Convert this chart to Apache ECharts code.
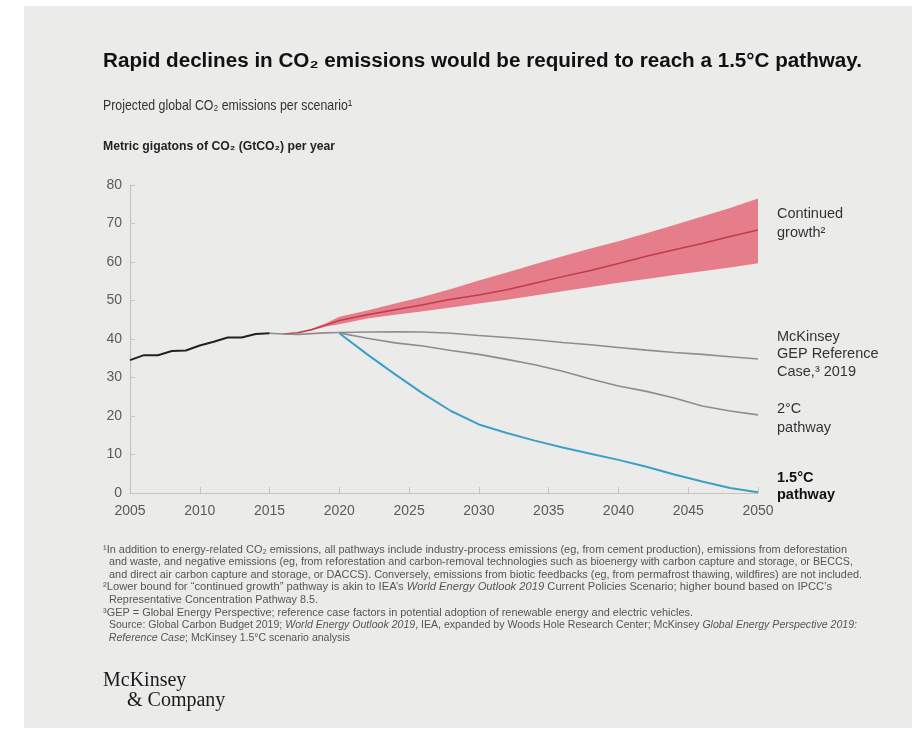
<!DOCTYPE html>
<html>
<head>
<meta charset="utf-8">
<script src="https://cdn.jsdelivr.net/npm/echarts@6/dist/echarts.min.js"></script>
<style>
  html, body { margin: 0; padding: 0; background: #ffffff; }
  #chart { width: 912px; height: 738px; }
</style>
</head>
<body>
<div id="chart"></div>
<script>
// historic emissions, GtCO2
var histYears = [2005, 2006, 2007, 2008, 2009, 2010, 2011, 2012, 2013, 2014, 2015]
var histValues = [34.5, 35.8, 35.8, 36.9, 37.0, 38.3, 39.3, 40.4, 40.4, 41.3, 41.5]

// projections (null = not drawn for that year)
var projYears = [2015, 2016, 2017, 2018, 2019, 2020, 2022, 2024, 2026, 2028, 2030, 2032, 2034, 2036, 2038, 2040, 2042, 2044, 2046, 2048, 2050]
var growthMid = [null, 41.3, 41.6, 42.4, 43.6, 44.8, 46.3, 47.6, 48.9, 50.3, 51.4, 52.8, 54.5, 56.2, 57.8, 59.6, 61.5, 63.2, 64.8, 66.6, 68.3]
var growthLow = [null, 41.3, 41.6, 42.2, 43.2, 43.8, 45.3, 46.3, 47.2, 48.2, 49.2, 50.2, 51.3, 52.4, 53.5, 54.6, 55.6, 56.6, 57.6, 58.6, 59.7]
var growthHigh = [null, 41.3, 41.6, 42.6, 44.0, 45.8, 47.4, 49.2, 51.0, 53.0, 55.2, 57.3, 59.4, 61.5, 63.5, 65.4, 67.5, 69.6, 71.8, 74.0, 76.5]
var gepRef = [41.5, 41.3, 41.2, 41.4, 41.6, 41.7, 41.8, 41.9, 41.8, 41.5, 40.9, 40.4, 39.8, 39.1, 38.5, 37.8, 37.1, 36.5, 36.0, 35.4, 34.8]
var path2C = [null, null, null, null, null, 41.6, 40.2, 39.0, 38.2, 37.0, 36.0, 34.7, 33.3, 31.6, 29.6, 27.8, 26.4, 24.7, 22.6, 21.3, 20.3]
var path15C = [null, null, null, null, null, 41.5, 36.0, 30.8, 25.8, 21.3, 17.8, 15.6, 13.6, 11.8, 10.2, 8.6, 6.8, 4.8, 3.0, 1.3, 0.2]

var yTicks = [0, 80, 10]   // min, max, step
var xTicks = [2005, 2050, 5]

function pairs(xs, ys) {
  var out = []
  for (var i = 0; i < xs.length; i++) {
    if (ys[i] !== null) out.push([xs[i], ys[i]])
  }
  return out
}

var plain = "'Liberation Sans', Arial, sans-serif"

// the original uses a condensed face, so squeeze Liberation Sans horizontally
var measureCtx = document.createElement('canvas').getContext('2d')
function textWidth(text, font) {
  measureCtx.font = font
  return measureCtx.measureText(text).width
}
function fitScale(text, font, width) {
  return width / textWidth(text, font)
}
// width of a line that may hold {i|...} italic runs
function richWidth(line, size) {
  var w = 0, re = /\{i\|([^}]*)\}/g, last = 0, m
  while ((m = re.exec(line)) !== null) {
    w += textWidth(line.slice(last, m.index), size + 'px ' + plain)
    w += textWidth(m[1], 'italic ' + size + 'px ' + plain)
    last = re.lastIndex
  }
  return w + textWidth(line.slice(last), size + 'px ' + plain)
}

var notes = [
  '¹In addition to energy-related CO₂ emissions, all pathways include industry-process emissions (eg, from cement production), emissions from deforestation',
  '  and waste, and negative emissions (eg, from reforestation and carbon-removal technologies such as bioenergy with carbon capture and storage, or BECCS,',
  '  and direct air carbon capture and storage, or DACCS). Conversely, emissions from biotic feedbacks (eg, from permafrost thawing, wildfires) are not included.',
  '²Lower bound for “continued growth” pathway is akin to IEA’s {i|World Energy Outlook 2019} Current Policies Scenario; higher bound based on IPCC’s',
  '  Representative Concentration Pathway 8.5.',
  '³GEP = Global Energy Perspective; reference case factors in potential adoption of renewable energy and electric vehicles.',
  '  Source: Global Carbon Budget 2019; {i|World Energy Outlook 2019}, IEA, expanded by Woods Hole Research Center; McKinsey {i|Global Energy Perspective 2019:}',
  '  {i|Reference Case}; McKinsey 1.5°C scenario analysis'
]
var noteRight = [847, 853, 862, 832, 318, 693, 857, 350]

var titleText = 'Rapid declines in CO₂ emissions would be required to reach a 1.5°C pathway.'
var subText = 'Projected global CO₂ emissions per scenario¹'
var unitText = 'Metric gigatons of CO₂ (GtCO₂) per year'

var titleFont = 'bold 20px ' + plain
var subFont = '14.5px ' + plain
var unitFont = 'bold 13px ' + plain
var noteSize = 11

function squeezed(text, font, x, y, width, color) {
  return {
    type: 'text', x: x, y: y, scaleX: fitScale(text, font, width),
    style: { text: text, font: font, fill: color, verticalAlign: 'top' }
  }
}

var chart = echarts.init(document.getElementById('chart'))

var graphics = [
  { type: 'rect', z: -10, shape: { x: 24, y: 6, width: 888, height: 722 }, style: { fill: '#ebecea' } },
  squeezed(titleText, titleFont, 103, 51, 759, '#111'),
  squeezed(subText, subFont, 103, 98, 249, '#333'),
  squeezed(unitText, unitFont, 103, 140, 232, '#222'),
  { type: 'text', x: 777, y: 204, style: { text: 'Continued\ngrowth²', font: '14.5px ' + plain, fill: '#333', lineHeight: 19, verticalAlign: 'top' } },
  { type: 'text', x: 777, y: 328, style: { text: 'McKinsey\nGEP Reference\nCase,³ 2019', font: '14.5px ' + plain, fill: '#333', lineHeight: 17.5, verticalAlign: 'top' } },
  { type: 'text', x: 777, y: 399, style: { text: '2°C\npathway', font: '14.5px ' + plain, fill: '#333', lineHeight: 19, verticalAlign: 'top' } },
  { type: 'text', x: 777, y: 469, style: { text: '1.5°C\npathway', font: 'bold 14.5px ' + plain, fill: '#111', lineHeight: 17, verticalAlign: 'top' } },
  { type: 'text', x: 103, y: 671, style: { text: 'McKinsey', font: '20px "Liberation Serif", "DejaVu Serif", serif', fill: '#1a1a1a', verticalAlign: 'top' } },
  { type: 'text', x: 127, y: 691, style: { text: '& Company', font: '20px "Liberation Serif", "DejaVu Serif", serif', fill: '#1a1a1a', verticalAlign: 'top' } }
]

notes.forEach(function (line, i) {
  graphics.push({
    type: 'text', x: 103, y: 544 + i * 12.6,
    scaleX: (noteRight[i] - 103) / richWidth(line, noteSize),
    style: {
      text: line, fontFamily: plain, fontSize: noteSize, fill: '#555', verticalAlign: 'top',
      rich: { i: { fontFamily: plain, fontSize: noteSize, fontStyle: 'italic', fill: '#555' } }
    }
  })
})

var axisColor = '#c9c3ba'

chart.setOption({
  backgroundColor: '#ffffff',
  animation: false,
  grid: { left: 130, right: 154, top: 185, bottom: 245, containLabel: false },
  xAxis: {
    type: 'value', min: xTicks[0], max: xTicks[1], interval: xTicks[2],
    axisLine: { show: true, lineStyle: { color: axisColor, width: 1.2 } },
    axisTick: { show: true, inside: true, length: 6, lineStyle: { color: axisColor } },
    splitLine: { show: false },
    axisLabel: { color: '#5a5a5a', fontSize: 14, fontFamily: plain, margin: 11, formatter: function (v) { return String(v) } }
  },
  yAxis: {
    type: 'value', min: yTicks[0], max: yTicks[1], interval: yTicks[2],
    axisLine: { show: true, lineStyle: { color: axisColor, width: 1.2 } },
    axisTick: { show: true, inside: true, length: 5, lineStyle: { color: axisColor } },
    splitLine: { show: false },
    axisLabel: { color: '#5a5a5a', fontSize: 14, fontFamily: plain, margin: 8 }
  },
  graphic: graphics,
  series: [
    {
      // range of the continued-growth pathway, drawn as one polygon
      name: 'Continued growth range', type: 'custom', silent: true, z: 1,
      data: [[projYears[1], growthLow[1]]],
      renderItem: function (params, api) {
        var pts = []
        for (var i = 0; i < projYears.length; i++) {
          if (growthHigh[i] !== null) pts.push(api.coord([projYears[i], growthHigh[i]]))
        }
        for (var j = projYears.length - 1; j >= 0; j--) {
          if (growthLow[j] !== null) pts.push(api.coord([projYears[j], growthLow[j]]))
        }
        return { type: 'polygon', shape: { points: pts }, style: { fill: '#e67d8a' } }
      }
    },
    {
      name: 'Continued growth', type: 'line', symbol: 'none', z: 3,
      lineStyle: { color: '#c23a4c', width: 1.5 },
      data: pairs(projYears, growthMid)
    },
    {
      name: 'McKinsey GEP Reference Case 2019', type: 'line', symbol: 'none', z: 3,
      lineStyle: { color: '#8d8d8d', width: 1.6 },
      data: pairs(projYears, gepRef)
    },
    {
      name: '2°C pathway', type: 'line', symbol: 'none', z: 3,
      lineStyle: { color: '#8d8d8d', width: 1.6 },
      data: pairs(projYears, path2C)
    },
    {
      name: '1.5°C pathway', type: 'line', symbol: 'none', z: 4,
      lineStyle: { color: '#3d9fc9', width: 2 },
      data: pairs(projYears, path15C)
    },
    {
      name: 'Historic', type: 'line', symbol: 'none', z: 4,
      lineStyle: { color: '#222', width: 2 },
      data: pairs(histYears, histValues)
    }
  ]
})
</script>
</body>
</html>
